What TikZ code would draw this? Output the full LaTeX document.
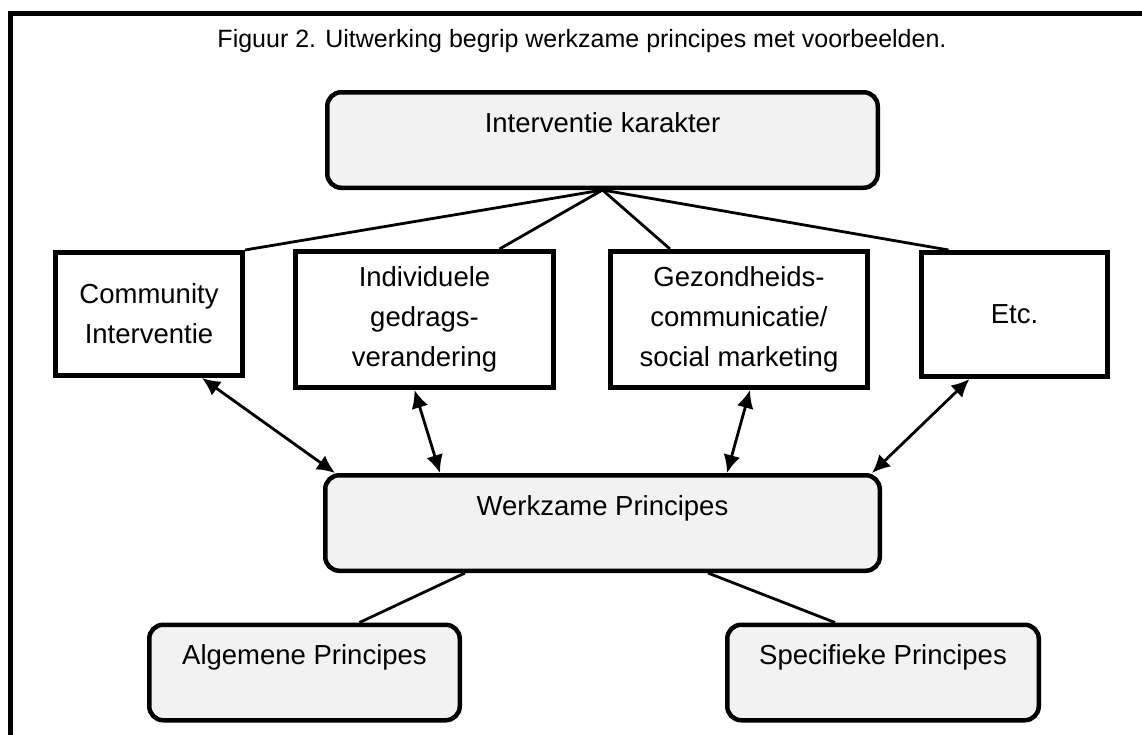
\documentclass[tikz,border=0pt]{standalone}
\usepackage{fontspec}
\setmainfont{Liberation Sans}
\usetikzlibrary{arrows.meta}
\definecolor{boxgray}{HTML}{F2F2F2}

\begin{document}
\begin{tikzpicture}[x=1pt,y=-1pt,
	roundbox/.style={draw,line width=4.5pt,rounded corners=14pt,fill=boxgray,
		inner sep=0pt,text height=40pt,text depth=55.5pt,minimum height=95.5pt,
		font=\fontsize{27.5}{40}\selectfont},
	sqbox/.style={draw,line width=5pt,fill=white,align=center,inner sep=0pt,
		font=\fontsize{27.5}{40}\selectfont},
	link/.style={line width=2.8pt},
	both/.style={line width=2.8pt,{Latex[length=18pt,width=17pt]}-{Latex[length=18pt,width=17pt]}}]
\useasboundingbox (0,0) rectangle (1142,734);

% frame and caption
\draw[line width=4.5pt] (10.5,745) -- (10.5,13.5) -- (1150,13.5);
\node[anchor=base,font=\fontsize{25}{30}\selectfont] (caption) at (582,47)
	{Figuur 2. Uitwerking begrip werkzame principes met voorbeelden.};

% top, middle and bottom levels
\node[roundbox,minimum width=550.5pt] (top) at (602.5,140) {Interventie karakter};
\node[roundbox,minimum width=554.5pt] (werk) at (602.5,523) {Werkzame Principes};
\node[roundbox,minimum width=310.5pt] (alg) at (304.5,672.5) {Algemene Principes};
\node[roundbox,minimum width=311.5pt] (spec) at (883,672.5) {Specifieke Principes};

% kinds of intervention
\node[sqbox,minimum width=187pt,minimum height=123pt] (comm) at (149,314)
	{Community\\Interventie};
\node[sqbox,minimum width=258pt,minimum height=136pt] (indiv) at (424.5,319.5)
	{Individuele\\gedrags-\\verandering};
\node[sqbox,minimum width=257pt,minimum height=136pt] (gez) at (739,319.5)
	{Gezondheids-\\communicatie/\\social marketing};
\node[sqbox,minimum width=186pt,minimum height=124pt] (etc) at (1014.5,314.5)
	{Etc.};

\draw[link] (top.south) -- (comm.north east);
\draw[link] (top.south) -- ([xshift=75pt]indiv.north);
\draw[link] (top.south) -- ([xshift=-69pt]gez.north);
\draw[link] (top.south) -- ([xshift=-66pt]etc.north);

\draw[both] ([xshift=53pt]comm.south) -- ([xshift=12pt]werk.north west);
\draw[both] ([xshift=-10pt]indiv.south) -- ([xshift=117pt]werk.north west);
\draw[both] ([xshift=11pt]gez.south) -- ([xshift=-155pt]werk.north east);
\draw[both] ([xshift=-45pt]etc.south) -- ([xshift=-10pt]werk.north east);

\draw[link] ([xshift=142pt]werk.south west) -- ([xshift=55pt]alg.north);
\draw[link] ([xshift=-174pt]werk.south east) -- ([xshift=-48pt]spec.north);
\end{tikzpicture}
\end{document}
